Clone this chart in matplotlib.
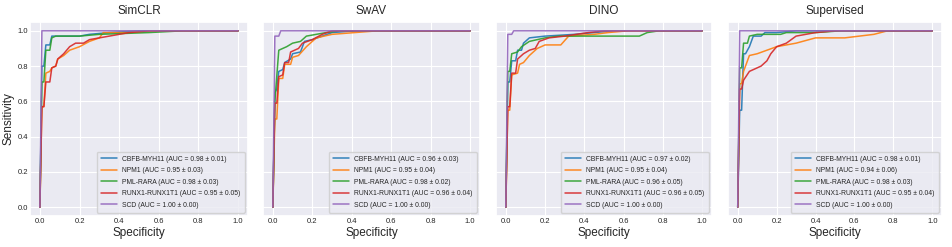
import matplotlib
matplotlib.use("Agg")
import matplotlib.pyplot as plt
import seaborn as sns

sns.set_theme(style="darkgrid")
plt.rcParams['font.family'] = ['Liberation Sans', 'DejaVu Sans']

titles = ["SimCLR", "SwAV", "DINO", "Supervised"]
classes = ["CBFB-MYH11", "NPM1", "PML-RARA", "RUNX1-RUNX1T1", "SCD"]
colors = ["#1f77b4", "#ff7f0e", "#2ca02c", "#d62728", "#9467bd"]

auc_mean = [
    [0.98, 0.95, 0.98, 0.95, 1.00],
    [0.96, 0.95, 0.98, 0.96, 1.00],
    [0.97, 0.95, 0.96, 0.96, 1.00],
    [0.98, 0.94, 0.98, 0.95, 1.00],
]
auc_std = [
    [0.01, 0.03, 0.03, 0.05, 0.00],
    [0.03, 0.04, 0.02, 0.04, 0.00],
    [0.02, 0.04, 0.05, 0.05, 0.00],
    [0.01, 0.06, 0.03, 0.04, 0.00],
]

# ---- SimCLR ----
simclr_cbfb_x = [0, 0.01, 0.02, 0.03, 0.05, 0.06, 0.08, 0.2, 0.25, 0.35, 0.5, 1.0]
simclr_cbfb_y = [0, 0.80, 0.80, 0.92, 0.92, 0.97, 0.97, 0.97, 0.98, 0.99, 1.0, 1.0]
simclr_npm1_x = [0, 0.01, 0.02, 0.03, 0.05, 0.06, 0.08, 0.09, 0.12, 0.15, 0.2, 0.25, 0.3, 0.32, 0.45, 0.6, 1.0]
simclr_npm1_y = [0, 0.57, 0.57, 0.76, 0.77, 0.79, 0.80, 0.84, 0.86, 0.89, 0.91, 0.94, 0.96, 0.99, 0.99, 1.0, 1.0]
simclr_pml_x = [0, 0.01, 0.02, 0.03, 0.05, 0.06, 0.08, 0.2, 0.3, 0.55, 0.72, 1.0]
simclr_pml_y = [0, 0.71, 0.71, 0.89, 0.89, 0.96, 0.97, 0.97, 0.98, 0.99, 1.0, 1.0]
simclr_runx_x = [0, 0.01, 0.02, 0.03, 0.05, 0.06, 0.08, 0.09, 0.12, 0.15, 0.18, 0.22, 0.25, 0.3, 0.35, 0.45, 0.55, 1.0]
simclr_runx_y = [0, 0.57, 0.57, 0.71, 0.71, 0.79, 0.80, 0.84, 0.87, 0.91, 0.93, 0.93, 0.95, 0.96, 0.97, 0.99, 1.0, 1.0]
simclr_scd_x = [0, 0.01, 1.0]
simclr_scd_y = [0, 1.0, 1.0]

# ---- SwAV ----
swav_cbfb_x = [0, 0.01, 0.02, 0.03, 0.05, 0.06, 0.09, 0.1, 0.14, 0.16, 0.2, 0.25, 0.3, 0.42, 1.0]
swav_cbfb_y = [0, 0.65, 0.67, 0.77, 0.78, 0.82, 0.84, 0.87, 0.88, 0.94, 0.95, 0.97, 0.99, 1.0, 1.0]
swav_npm1_x = [0, 0.01, 0.02, 0.03, 0.05, 0.06, 0.09, 0.1, 0.13, 0.17, 0.22, 0.3, 0.53, 1.0]
swav_npm1_y = [0, 0.50, 0.50, 0.73, 0.73, 0.81, 0.81, 0.85, 0.86, 0.91, 0.96, 0.98, 1.0, 1.0]
swav_pml_x = [0, 0.01, 0.03, 0.05, 0.07, 0.1, 0.14, 0.17, 0.22, 0.27, 0.34, 1.0]
swav_pml_y = [0, 0.60, 0.89, 0.90, 0.91, 0.93, 0.94, 0.97, 0.98, 0.99, 1.0, 1.0]
swav_runx_x = [0, 0.01, 0.02, 0.03, 0.05, 0.06, 0.08, 0.09, 0.13, 0.15, 0.2, 0.25, 0.3, 1.0]
swav_runx_y = [0, 0.59, 0.59, 0.74, 0.75, 0.82, 0.82, 0.88, 0.90, 0.93, 0.95, 0.98, 1.0, 1.0]
swav_scd_x = [0, 0.01, 0.03, 0.04, 1.0]
swav_scd_y = [0, 0.97, 0.97, 1.0, 1.0]

# ---- DINO ----
dino_cbfb_x = [0, 0.01, 0.02, 0.03, 0.05, 0.06, 0.08, 0.09, 0.12, 0.2, 0.35, 0.45, 0.55, 1.0]
dino_cbfb_y = [0, 0.71, 0.71, 0.83, 0.83, 0.89, 0.89, 0.93, 0.96, 0.97, 0.98, 0.99, 1.0, 1.0]
dino_npm1_x = [0, 0.01, 0.02, 0.03, 0.06, 0.07, 0.09, 0.12, 0.16, 0.2, 0.28, 0.32, 0.45, 0.52, 0.62, 1.0]
dino_npm1_y = [0, 0.55, 0.55, 0.75, 0.76, 0.81, 0.82, 0.86, 0.90, 0.92, 0.92, 0.97, 0.98, 0.99, 1.0, 1.0]
dino_pml_x = [0, 0.01, 0.02, 0.03, 0.06, 0.08, 0.12, 0.2, 0.27, 0.4, 0.68, 0.72, 0.78, 1.0]
dino_pml_y = [0, 0.77, 0.77, 0.87, 0.88, 0.91, 0.94, 0.96, 0.97, 0.97, 0.97, 0.99, 1.0, 1.0]
dino_runx_x = [0, 0.01, 0.02, 0.03, 0.05, 0.06, 0.09, 0.12, 0.15, 0.17, 0.22, 0.3, 0.42, 0.5, 1.0]
dino_runx_y = [0, 0.57, 0.57, 0.76, 0.76, 0.84, 0.87, 0.89, 0.90, 0.94, 0.96, 0.97, 0.99, 1.0, 1.0]
dino_scd_x = [0, 0.01, 0.03, 0.04, 1.0]
dino_scd_y = [0, 0.98, 0.98, 1.0, 1.0]

# ---- Supervised ----
sup_cbfb_x = [0, 0.01, 0.02, 0.03, 0.04, 0.06, 0.08, 0.12, 0.14, 0.2, 0.3, 1.0]
sup_cbfb_y = [0, 0.55, 0.55, 0.87, 0.87, 0.91, 0.97, 0.97, 0.99, 0.99, 1.0, 1.0]
sup_npm1_x = [0, 0.01, 0.02, 0.03, 0.06, 0.1, 0.15, 0.2, 0.3, 0.4, 0.55, 0.7, 0.77, 1.0]
sup_npm1_y = [0, 0.70, 0.70, 0.77, 0.86, 0.87, 0.89, 0.91, 0.93, 0.96, 0.96, 0.98, 1.0, 1.0]
sup_pml_x = [0, 0.01, 0.02, 0.03, 0.05, 0.06, 0.1, 0.22, 0.25, 0.4, 0.53, 1.0]
sup_pml_y = [0, 0.79, 0.79, 0.93, 0.93, 0.97, 0.98, 0.98, 0.99, 0.99, 1.0, 1.0]
sup_runx_x = [0, 0.01, 0.02, 0.03, 0.06, 0.1, 0.12, 0.15, 0.17, 0.2, 0.25, 0.3, 0.4, 0.5, 1.0]
sup_runx_y = [0, 0.67, 0.67, 0.72, 0.77, 0.79, 0.80, 0.83, 0.87, 0.91, 0.93, 0.97, 0.99, 1.0, 1.0]
sup_scd_x = [0, 0.01, 1.0]
sup_scd_y = [0, 1.0, 1.0]

curves = [
    [(simclr_cbfb_x, simclr_cbfb_y), (simclr_npm1_x, simclr_npm1_y), (simclr_pml_x, simclr_pml_y),
     (simclr_runx_x, simclr_runx_y), (simclr_scd_x, simclr_scd_y)],
    [(swav_cbfb_x, swav_cbfb_y), (swav_npm1_x, swav_npm1_y), (swav_pml_x, swav_pml_y),
     (swav_runx_x, swav_runx_y), (swav_scd_x, swav_scd_y)],
    [(dino_cbfb_x, dino_cbfb_y), (dino_npm1_x, dino_npm1_y), (dino_pml_x, dino_pml_y),
     (dino_runx_x, dino_runx_y), (dino_scd_x, dino_scd_y)],
    [(sup_cbfb_x, sup_cbfb_y), (sup_npm1_x, sup_npm1_y), (sup_pml_x, sup_pml_y),
     (sup_runx_x, sup_runx_y), (sup_scd_x, sup_scd_y)],
]

fig = plt.figure(figsize=(9.52, 2.47), dpi=100)
W, H = 952, 247
lefts = [30, 263, 496, 728]
widths = [218, 217, 216, 214]
top, bottom = 22, 216
for i, t in enumerate(titles):
    ax = fig.add_axes([lefts[i] / W, 1 - bottom / H, widths[i] / W, (bottom - top) / H])
    for j, c in enumerate(classes):
        x, y = curves[i][j]
        ax.plot(x, y, color=colors[j], lw=1.1, alpha=0.9,
                label=f"{c} (AUC = {auc_mean[i][j]:.2f} \u00b1 {auc_std[i][j]:.2f})")
    ax.set_xlim(-0.05, 1.05)
    ax.set_ylim(-0.05, 1.05)
    ax.set_xticks([0, 0.2, 0.4, 0.6, 0.8, 1.0])
    ax.set_yticks([0, 0.2, 0.4, 0.6, 0.8, 1.0])
    ax.tick_params(labelsize=5.5, pad=1.5, length=0)
    ax.grid(linewidth=0.8)
    ax.set_title(t, fontsize=8.5, pad=6)
    ax.set_xlabel("Specificity", fontsize=8.5, labelpad=1.5)
    if i == 0:
        ax.set_ylabel("Sensitivity", fontsize=8.5, labelpad=2)
    else:
        ax.set_yticklabels([])
    ax.legend(loc="lower right", fontsize=4.9, handlelength=2.3, borderpad=0.6,
              labelspacing=0.65, borderaxespad=0.5)

fig.savefig("out.png", dpi=100)
